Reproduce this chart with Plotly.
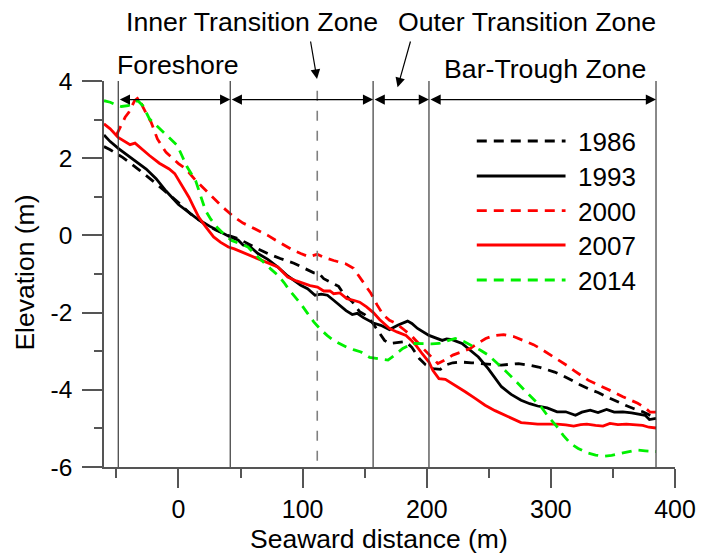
import plotly.graph_objects as go

# ---------------- data ----------------
x1986 = [-60, -55, -45, -38, -31, -21, -12, -7, 0, 10, 20, 30, 40, 48, 56, 64, 72, 82, 93, 101, 109, 113,
         117, 123, 129, 133, 140, 146, 150, 156, 161, 166, 170, 177, 183, 188, 194, 199, 205, 211, 215, 221,
         227, 236, 244, 252, 260, 267, 274, 282, 290, 296, 303, 310, 316, 323, 330, 338, 345, 352, 360, 367,
         374, 380, 384.7]
y1986 = [2.30, 2.22, 2.02, 1.86, 1.68, 1.42, 1.18, 1.06, 0.85, 0.55, 0.32, 0.14, 0.0, -0.08, -0.22, -0.35,
         -0.47, -0.60, -0.72, -0.85, -0.97, -0.98, -1.12, -1.22, -1.32, -1.51, -1.72, -1.98, -2.05, -2.25,
         -2.48, -2.72, -2.80, -2.78, -2.75, -2.90, -3.19, -3.35, -3.45, -3.47, -3.36, -3.30, -3.28, -3.30,
         -3.32, -3.35, -3.36, -3.34, -3.32, -3.36, -3.41, -3.47, -3.54, -3.64, -3.75, -3.86, -3.97, -4.07,
         -4.18, -4.29, -4.40, -4.49, -4.57, -4.66, -4.72]

x1993 = [-60, -55, -48, -40, -33, -26, -18, -10, 0, 8, 16, 25, 33, 41.6, 48, 52, 58, 64, 72, 80, 88, 94,
         98.5, 104, 110, 115, 120, 125, 130, 135, 140, 144, 149, 157, 163, 170, 177, 184.6, 188, 192.6,
         201.8, 207, 212.5, 216, 220.4, 228.4, 235, 241.6, 249.5, 255, 260.2, 268, 276, 283, 289.3, 297,
         305, 312, 319.8, 325, 331.7, 338, 344.9, 351, 358, 365, 371.5, 376, 379.4, 384.7]
y1993 = [2.60, 2.43, 2.24, 2.05, 1.88, 1.72, 1.47, 1.15, 0.80, 0.60, 0.41, 0.24, 0.10, -0.04, -0.12, -0.25,
         -0.30, -0.47, -0.62, -0.82, -1.05, -1.18, -1.29, -1.38, -1.55, -1.52, -1.55, -1.68, -1.81, -1.95,
         -2.05, -2.02, -2.13, -2.27, -2.33, -2.44, -2.32, -2.22, -2.28, -2.41, -2.59, -2.65, -2.72, -2.68,
         -2.70, -2.80, -2.98, -3.15, -3.45, -3.70, -3.92, -4.12, -4.27, -4.36, -4.42, -4.47, -4.57, -4.57,
         -4.66, -4.58, -4.53, -4.59, -4.51, -4.58, -4.57, -4.60, -4.63, -4.66, -4.77, -4.74]

x2000 = [-50, -47, -43, -40, -35.3, -32, -29, -25, -22, -17, -10, 0, 6, 14, 22, 28, 35, 45, 52, 59, 66, 72,
         78, 85, 92, 98.5, 105, 111.8, 118, 125, 135, 141, 146, 150, 155, 160, 165, 170, 175, 182, 188.6,
         198, 204, 209, 215, 221, 228, 235, 241, 247.5, 254, 262, 270, 278, 286, 293, 300, 308, 314, 319,
         325, 330, 338, 345, 352, 358, 364, 370, 376, 380, 384.7]
y2000 = [2.60, 2.80, 3.06, 3.19, 3.49, 3.58, 3.35, 3.10, 2.93, 2.50, 2.15, 1.86, 1.72, 1.42, 1.16, 0.95,
         0.75, 0.47, 0.32, 0.21, 0.10, 0.0, -0.12, -0.26, -0.38, -0.47, -0.55, -0.49, -0.58, -0.65, -0.74,
         -0.85, -1.08, -1.25, -1.50, -1.80, -2.06, -2.20, -2.28, -2.45, -2.63, -2.96, -3.15, -3.32, -3.22,
         -3.10, -3.02, -2.93, -2.80, -2.67, -2.60, -2.57, -2.62, -2.72, -2.83, -2.96, -3.10, -3.26, -3.39,
         -3.51, -3.64, -3.75, -3.87, -3.97, -4.08, -4.18, -4.27, -4.35, -4.47, -4.58, -4.58]

x2007 = [-60, -55, -48.6, -42, -39, -35, -29, -23.4, -15.4, -7.5, -3, 0.5, 4, 8.4, 12, 16.4, 22, 28.3, 34,
         40.2, 45, 50.8, 58, 66.7, 73, 80, 84, 88, 95, 101, 106, 112, 117, 122, 125, 130, 135.6, 141, 146,
         151.5, 157, 162, 166, 170, 176, 183.3, 187, 191.3, 196, 201.8, 205, 209.8, 215, 222, 231, 239, 247,
         255, 263, 270, 276, 283, 289.3, 297, 305, 312, 318.4, 324, 329, 336, 342, 347.6, 354, 360.8, 367,
         374, 379, 384.7]
y2007 = [2.89, 2.76, 2.54, 2.40, 2.35, 2.39, 2.22, 2.07, 1.87, 1.72, 1.60, 1.42, 1.22, 0.99, 0.75, 0.47,
         0.22, -0.04, -0.18, -0.30, -0.35, -0.43, -0.52, -0.65, -0.72, -0.82, -0.95, -1.08, -1.18, -1.25,
         -1.30, -1.34, -1.44, -1.44, -1.51, -1.49, -1.64, -1.68, -1.73, -1.85, -2.00, -2.18, -2.30, -2.41,
         -2.50, -2.59, -2.70, -2.85, -3.05, -3.28, -3.50, -3.71, -3.73, -3.88, -4.05, -4.22, -4.40, -4.54,
         -4.66, -4.76, -4.85, -4.87, -4.89, -4.89, -4.89, -4.91, -4.94, -4.90, -4.89, -4.92, -4.94, -4.87,
         -4.90, -4.89, -4.91, -4.92, -4.97, -4.99]

x2014 = [-60, -55, -50, -46, -40.6, -36, -32.7, -28.7, -23.4, -18, -14, -8, -3.5, -0.9, 3, 7, 13.8, 18,
         21.7, 26, 31, 37, 42.8, 50, 56, 62, 68, 74, 80, 85, 89.3, 94, 98.5, 104, 109, 114, 119.7, 125, 130,
         135.6, 141, 147, 154, 161, 168.8, 175, 180.7, 188.6, 194, 199, 204, 209.8, 216, 223, 230, 236.3,
         243, 249.5, 256, 262.8, 270, 278.7, 285, 292, 298, 305, 310, 315.8, 322, 329, 336, 342.3, 349,
         355.6, 362, 368.8, 376, 384.7]
y2014 = [3.49, 3.45, 3.38, 3.34, 3.36, 3.42, 3.49, 3.36, 3.02, 2.86, 2.72, 2.55, 2.41, 2.33, 2.05, 1.77,
         1.42, 1.00, 0.65, 0.42, 0.21, 0.02, -0.13, -0.22, -0.30, -0.50, -0.69, -0.86, -1.03, -1.22, -1.42,
         -1.60, -1.77, -2.02, -2.24, -2.42, -2.59, -2.72, -2.80, -2.90, -2.96, -3.02, -3.16, -3.20, -3.23,
         -3.08, -2.93, -2.80, -2.81, -2.82, -2.81, -2.80, -2.73, -2.67, -2.75, -2.85, -2.97, -3.10, -3.28,
         -3.49, -3.72, -4.01, -4.22, -4.44, -4.70, -4.96, -5.18, -5.39, -5.52, -5.63, -5.69, -5.72, -5.70,
         -5.65, -5.60, -5.56, -5.58, -5.60]

years = ["1986", "1993", "2000", "2007", "2014"]
zone_bounds = [-48.5, 41.7, 156.8, 201.8, 384.7]
inner_marker = 111.8
x_tick_vals = [0, 100, 200, 300, 400]
x_tick_text = ["0", "100", "200", "300", "400"]
x_minor_vals = [-50, 50, 150, 250, 350]
y_tick_vals = [-6, -4, -2, 0, 2, 4]
y_tick_text = ["-6", "-4", "-2", "0", "2", "4"]
y_minor_vals = [-5, -3, -1, 1, 3]

# ---------------- figure ----------------
FONT = "Liberation Sans, Arial, sans-serif"
W, H = 708, 553
ML, MR, MT, MB = 104, 25, 81, 86
PW, PH = W - ML - MR, H - MT - MB


def px_x(px):
    return (px - ML) / PW


def px_y(py):
    return (H - MB - py) / PH


DASH = "10px,7px"
styles = [
    dict(color="black", dash=DASH),
    dict(color="black", dash="solid"),
    dict(color="#ff0000", dash=DASH),
    dict(color="#ff0000", dash="solid"),
    dict(color="#00f000", dash=DASH),
]
series = [(x1986, y1986), (x1993, y1993), (x2000, y2000), (x2007, y2007), (x2014, y2014)]

fig = go.Figure()
for (xs, ys), st, name in zip(series, styles, years):
    fig.add_trace(go.Scatter(x=xs, y=ys, mode="lines", name=name, showlegend=False,
                             line=dict(color=st["color"], dash=st["dash"], width=2.8)))

shapes = []
for b in zone_bounds:
    shapes.append(dict(type="line", xref="x", yref="y", x0=b, x1=b, y0=-6, y1=4,
                       line=dict(color="#3a3a3a", width=1.2)))
shapes.append(dict(type="line", xref="x", yref="y", x0=inner_marker, x1=inner_marker, y0=3.75, y1=-6,
                   line=dict(color="#808080", width=1.6, dash="10px,10px")))

annotations = []
ARROW_Y = 3.52
for a, b in zip(zone_bounds[:-1], zone_bounds[1:]):
    annotations.append(dict(x=b, y=ARROW_Y, ax=a, ay=ARROW_Y, xref="x", yref="y", axref="x", ayref="y",
                            text="", showarrow=True, arrowside="end+start", arrowhead=2, startarrowhead=2,
                            arrowsize=1.7, startarrowsize=1.7, arrowwidth=1.2, arrowcolor="black"))

# pointer arrows (paper position of the head, pixel offset of the tail)
annotations.append(dict(x=px_x(320), y=px_y(79), ax=-6.7, ay=-39, xref="paper", yref="paper",
                        text="", showarrow=True, arrowhead=2, arrowsize=1.6, arrowwidth=1.2,
                        arrowcolor="black"))
annotations.append(dict(x=px_x(401.7), y=px_y(87.3), ax=13.3, ay=-47.3, xref="paper", yref="paper",
                        text="", showarrow=True, arrowhead=2, arrowsize=1.6, arrowwidth=1.2,
                        arrowcolor="black"))

labels = [
    ("Inner Transition Zone", 254.2, 22.5),
    ("Outer Transition Zone", 533.3, 22.0),
    ("Foreshore", 179.0, 65.3),
    ("Bar-Trough Zone", 550.8, 68.7),
]
for t, lx, ly in labels:
    annotations.append(dict(x=px_x(lx), y=px_y(ly), xref="paper", yref="paper", text=t, showarrow=False,
                            xanchor="center", yanchor="middle",
                            font=dict(family=FONT, size=26.7, color="black")))

# axis titles
annotations.append(dict(x=px_x(382.5), y=px_y(539), xref="paper", yref="paper",
                        text="Seaward distance (m)", showarrow=False, xanchor="center", yanchor="middle",
                        font=dict(family=FONT, size=26.5, color="black")))
annotations.append(dict(x=px_x(23.5), y=px_y(273), xref="paper", yref="paper",
                        text="Elevation (m)", showarrow=False, textangle=-90, xanchor="center",
                        yanchor="middle", font=dict(family=FONT, size=26.5, color="black")))

# manual legend
leg_y = [141, 176, 210.7, 245, 280]
for st, name, ly in zip(styles, years, leg_y):
    shapes.append(dict(type="line", xref="paper", yref="paper", x0=px_x(482), x1=px_x(572),
                       y0=px_y(ly), y1=px_y(ly),
                       line=dict(color=st["color"], dash=st["dash"], width=2.8)))
    annotations.append(dict(x=px_x(583), y=px_y(ly + 1), xref="paper", yref="paper", text=name,
                            showarrow=False, xanchor="left", yanchor="middle",
                            font=dict(family=FONT, size=26, color="black")))

AXC = "#555555"
fig.update_layout(
    width=W, height=H,
    margin=dict(l=ML, r=MR, t=MT, b=MB),
    paper_bgcolor="white", plot_bgcolor="white",
    font=dict(family=FONT, color="black"),
    shapes=shapes, annotations=annotations,
    xaxis=dict(range=[-60, 400], showgrid=False, zeroline=False, showline=True, linecolor=AXC, linewidth=1.5,
               ticks="outside", ticklen=19, tickwidth=1.5, tickcolor=AXC,
               tickmode="array", tickvals=x_tick_vals, ticktext=x_tick_text,
               tickfont=dict(family=FONT, size=25, color="black"),
               minor=dict(ticks="outside", ticklen=9, tickwidth=1.5, tickcolor=AXC,
                          tickmode="array", tickvals=x_minor_vals, showgrid=False)),
    yaxis=dict(range=[-6, 4], showgrid=False, zeroline=False, showline=True, linecolor=AXC, linewidth=1.5,
               ticks="outside", ticklen=20, tickwidth=1.5, tickcolor=AXC, ticklabelstandoff=5,
               tickmode="array", tickvals=y_tick_vals, ticktext=y_tick_text,
               tickfont=dict(family=FONT, size=24.5, color="black"),
               minor=dict(ticks="outside", ticklen=8, tickwidth=1.5, tickcolor=AXC,
                          tickmode="array", tickvals=y_minor_vals, showgrid=False)),
)

fig.write_html("out.html", config={"displayModeBar": False},
               post_script="document.body.style.margin='0';document.body.style.overflow='hidden';")
